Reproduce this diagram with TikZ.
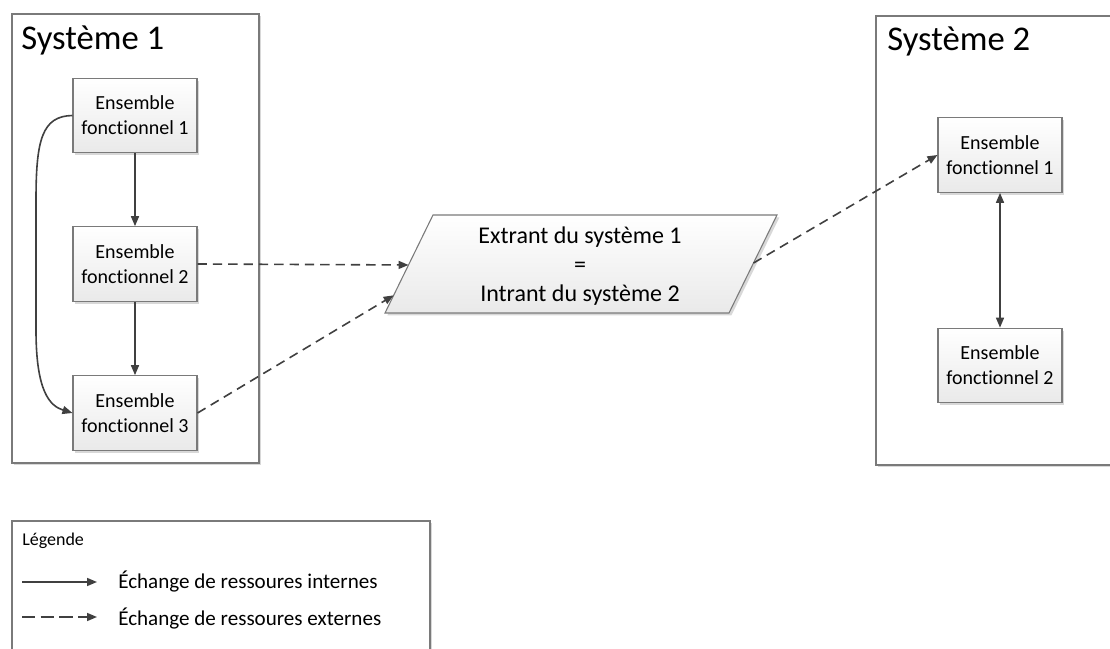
\documentclass[tikz,border=0pt]{standalone}
\usepackage{fontspec}
\setmainfont{Carlito}[Ligatures=NoCommon]
\usetikzlibrary{arrows.meta,shadows,calc}
\definecolor{linegray}{HTML}{404040}
\definecolor{framegray}{HTML}{7A7A7A}
\definecolor{shadowgray}{HTML}{C8C8C8}
\begin{document}
\begin{tikzpicture}[x=0.75pt,y=-0.75pt,
  softshadow/.style={drop shadow={shadow xshift=1.8pt, shadow yshift=-1.8pt, fill=shadowgray, opacity=0.7}},
  sysframe/.style={draw=framegray, line width=0.8pt, fill=white, softshadow, inner sep=0pt},
  fbox/.style={draw=framegray, line width=0.8pt, top color=white, bottom color=gray!17,
    minimum width=93pt, minimum height=56pt, align=center, inner sep=0pt,
    font=\fontsize{15}{18.75}\selectfont, softshadow},
  title/.style={anchor=base west, inner sep=0pt, font=\fontsize{26}{31}\selectfont},
  legtext/.style={anchor=base west, inner sep=0pt, font=\fontsize{15.8}{19}\selectfont},
  tip/.style={-{Triangle[length=7.5pt,width=6pt]}},
  internal/.style={draw=linegray, line width=1.2pt, tip},
  external/.style={draw=linegray, line width=1.2pt, dash pattern=on 7pt off 4.5pt, tip},
]
\path[use as bounding box] (0,0) rectangle (1110,649);
\clip (0,0) rectangle (1110,649);

% system frames and legend frame
\node[sysframe, minimum width=185.25pt, minimum height=336.75pt] (sys1) at (135.5,238.5) {};
\node[sysframe, minimum width=183pt, minimum height=336.75pt] (sys2) at (998,240.5) {};
\node[sysframe, minimum width=313.5pt, minimum height=119.25pt] (leg) at (221,600.5) {};

\node[title] (t1) at (21,50) {Système 1};
\node[title] (t2) at (887,51) {Système 2};

% functional sets of system 1
\node[fbox] (e1) at (135,115.5) {Ensemble\\fonctionnel 1};
\node[fbox] (e2) at (135,264) {Ensemble\\fonctionnel 2};
\node[fbox] (e3) at (135,413) {Ensemble\\fonctionnel 3};

% functional sets of system 2
\node[fbox] (f1) at (1000,155) {Ensemble\\fonctionnel 1};
\node[fbox] (f2) at (1000,365.5) {Ensemble\\fonctionnel 2};

% output / input parallelogram
\coordinate (pbl) at (385,313);
\coordinate (ptl) at (433,215);
\coordinate (ptr) at (777,215);
\coordinate (pbr) at (729,313);
\path[draw=framegray, line width=0.8pt, top color=white, bottom color=gray!17, softshadow]
  (pbl) -- (ptl) -- (ptr) -- (pbr) -- cycle;
\node[align=center, inner sep=0pt, font=\fontsize{18}{21.75}\selectfont] (io) at (580,266)
  {Extrant du système 1\\=\\Intrant du système 2};
\coordinate (inA) at ($(pbl)!0.49!(ptl)$);
\coordinate (inB) at ($(pbl)!0.18!(ptl)$);
\coordinate (outA) at ($(pbr)!0.51!(ptr)$);

% internal exchanges
\draw[internal] (e1) -- (e2);
\draw[internal] (e2) -- (e3);
\draw[internal] (e1.west) .. controls (42,116) and (36,140) .. (36,200)
  -- (36,330) .. controls (36,392) and (50,406) .. (e3.west);
\draw[draw=linegray, line width=1.2pt, {Triangle[length=7.5pt,width=6pt]}-{Triangle[length=7.5pt,width=6pt]}] (f1) -- (f2);

% external exchanges
\draw[external] (e2.east) -- (inA);
\draw[external] (e3.east) -- (inB);
\draw[external] (outA) -- (f1.west);

% legend
\node[legtext, font=\fontsize{13.5}{16}\selectfont] (lt) at (22,545) {Légende};
\coordinate (la1) at (22,582);
\coordinate (lb1) at (97,582);
\coordinate (la2) at (22,617);
\coordinate (lb2) at (97,617);
\draw[internal] (la1) -- (lb1);
\draw[external, dash pattern=on 10pt off 4pt] (la2) -- (lb2);
\node[legtext] (li) at (118,588) {Échange de ressoures internes};
\node[legtext] (le) at (118,625) {Échange de ressoures externes};
\end{tikzpicture}
\end{document}
